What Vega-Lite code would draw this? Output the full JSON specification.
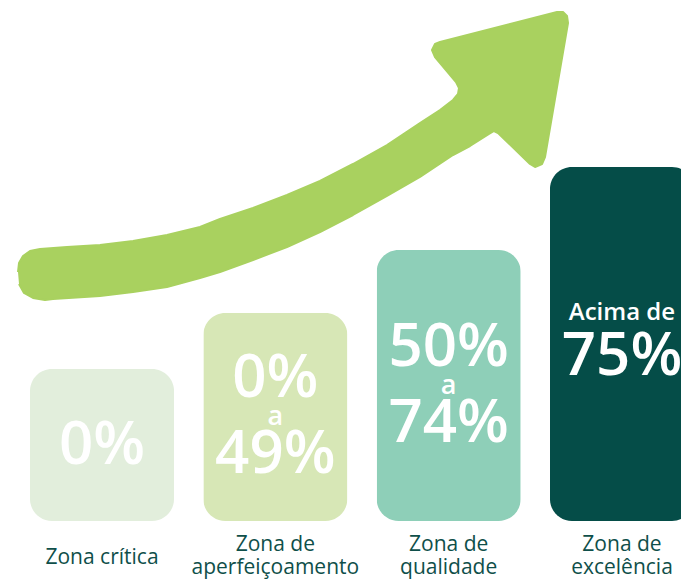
{
  "$schema": "https://vega.github.io/schema/vega-lite/v6.json",
  "width": 681,
  "height": 521,
  "autosize": "none",
  "padding": {"left": 0, "top": 0, "right": 0, "bottom": 58},
  "background": "white",
  "config": {"view": {"stroke": null}, "font": "Open Sans"},
  "datasets": {
    "zones": [
      {"zone": "Zona crítica", "height": 152},
      {"zone": "Zona de aperfeiçoamento", "height": 208},
      {"zone": "Zona de qualidade", "height": 271},
      {"zone": "Zona de excelência", "height": 354}
    ],
    "texts": [
      {"zone": "Zona crítica", "height": 152, "part": "single", "text": "0%"},
      {"zone": "Zona de aperfeiçoamento", "height": 208, "part": "upper", "text": "0%"},
      {"zone": "Zona de aperfeiçoamento", "height": 208, "part": "a", "text": "a"},
      {"zone": "Zona de aperfeiçoamento", "height": 208, "part": "lower", "text": "49%"},
      {"zone": "Zona de qualidade", "height": 271, "part": "upper", "text": "50%"},
      {"zone": "Zona de qualidade", "height": 271, "part": "a", "text": "a"},
      {"zone": "Zona de qualidade", "height": 271, "part": "lower", "text": "74%"},
      {"zone": "Zona de excelência", "height": 354, "part": "head", "text": "Acima de"},
      {"zone": "Zona de excelência", "height": 354, "part": "big", "text": "75%"}
    ],
    "arrow": [
      {"i": 1, "ax": 18, "ay": 249},
      {"i": 2, "ax": 19, "ay": 258},
      {"i": 3, "ax": 23, "ay": 265},
      {"i": 4, "ax": 30, "ay": 270},
      {"i": 5, "ax": 40, "ay": 272},
      {"i": 6, "ax": 67, "ay": 274},
      {"i": 7, "ax": 100, "ay": 276},
      {"i": 8, "ax": 133, "ay": 280},
      {"i": 9, "ax": 167, "ay": 286},
      {"i": 10, "ax": 200, "ay": 294},
      {"i": 11, "ax": 220, "ay": 302},
      {"i": 12, "ax": 253, "ay": 313},
      {"i": 13, "ax": 287, "ay": 326},
      {"i": 14, "ax": 320, "ay": 340},
      {"i": 15, "ax": 353, "ay": 357},
      {"i": 16, "ax": 387, "ay": 376},
      {"i": 17, "ax": 420, "ay": 398},
      {"i": 18, "ax": 440, "ay": 411},
      {"i": 19, "ax": 453, "ay": 421},
      {"i": 20, "ax": 458, "ay": 427},
      {"i": 21, "ax": 459, "ay": 433},
      {"i": 22, "ax": 456, "ay": 439},
      {"i": 23, "ax": 435, "ay": 464},
      {"i": 24, "ax": 432, "ay": 471},
      {"i": 25, "ax": 435, "ay": 477},
      {"i": 26, "ax": 440, "ay": 479},
      {"i": 27, "ax": 557, "ay": 509},
      {"i": 28, "ax": 563, "ay": 509},
      {"i": 29, "ax": 567, "ay": 505},
      {"i": 30, "ax": 568, "ay": 498},
      {"i": 31, "ax": 545, "ay": 364},
      {"i": 32, "ax": 542, "ay": 357},
      {"i": 33, "ax": 535, "ay": 354},
      {"i": 34, "ax": 530, "ay": 357},
      {"i": 35, "ax": 498, "ay": 388},
      {"i": 36, "ax": 494, "ay": 390},
      {"i": 37, "ax": 489, "ay": 387},
      {"i": 38, "ax": 470, "ay": 375},
      {"i": 39, "ax": 453, "ay": 366},
      {"i": 40, "ax": 420, "ay": 344},
      {"i": 41, "ax": 387, "ay": 325},
      {"i": 42, "ax": 353, "ay": 306},
      {"i": 43, "ax": 320, "ay": 289},
      {"i": 44, "ax": 287, "ay": 274},
      {"i": 45, "ax": 253, "ay": 261},
      {"i": 46, "ax": 220, "ay": 249},
      {"i": 47, "ax": 200, "ay": 243},
      {"i": 48, "ax": 167, "ay": 234},
      {"i": 49, "ax": 133, "ay": 229},
      {"i": 50, "ax": 100, "ay": 225},
      {"i": 51, "ax": 53, "ay": 222},
      {"i": 52, "ax": 45, "ay": 221},
      {"i": 53, "ax": 33, "ay": 223},
      {"i": 54, "ax": 24, "ay": 228},
      {"i": 55, "ax": 19, "ay": 237}
    ]
  },
  "resolve": {"scale": {"x": "independent", "y": "independent"}},
  "layer": [
    {
      "data": {"name": "arrow"},
      "mark": {"type": "line", "filled": true, "fill": "#A9D15F", "stroke": "#A9D15F", "strokeWidth": 2, "strokeJoin": "round", "interpolate": "linear"},
      "encoding": {
        "x": {"field": "ax", "type": "quantitative", "scale": {"domain": [0, 681], "nice": false, "zero": false}, "axis": null},
        "y": {"field": "ay", "type": "quantitative", "scale": {"domain": [0, 521], "nice": false}, "axis": null},
        "order": {"field": "i", "type": "quantitative"}
      }
    },
    {
      "data": {"name": "zones"},
      "mark": {"type": "bar", "cornerRadius": 22},
      "encoding": {
        "x": {
          "field": "zone", "type": "nominal",
          "scale": {"type": "band", "domain": ["Zona crítica", "Zona de aperfeiçoamento", "Zona de qualidade", "Zona de excelência"], "range": [0, 724], "paddingInner": 0.169, "paddingOuter": 0.173},
          "axis": {
            "title": null, "domain": false, "ticks": false, "grid": false, "labelAngle": 0,
            "labelFont": "Open Sans", "labelFontSize": 21, "labelColor": "#0F4F4A",
            "labelLineHeight": 23, "labelBaseline": "top",
            "labelPadding": {"condition": {"test": "datum.value == 'Zona crítica'", "value": 25}, "value": 12},
            "labelOverlap": false, "labelBound": false, "labelFlush": false,
            "labelExpr": "datum.value == 'Zona crítica' ? datum.value : ['Zona de', replace(datum.value, 'Zona de ', '')]"
          }
        },
        "y": {"field": "height", "type": "quantitative", "scale": {"domain": [0, 521], "nice": false}, "axis": null},
        "color": {
          "field": "zone", "type": "nominal",
          "scale": {"domain": ["Zona crítica", "Zona de aperfeiçoamento", "Zona de qualidade", "Zona de excelência"], "range": ["#E2EEDC", "#D7E7B6", "#8ECFB8", "#054D48"]},
          "legend": null
        }
      }
    },
    {
      "data": {"name": "texts"},
      "transform": [{"filter": "datum.part == 'single'"}],
      "mark": {"type": "text", "fontSize": 60, "fontWeight": 600, "color": "white", "baseline": "middle", "align": "center", "dy": 1},
      "encoding": {
        "x": {"field": "zone", "type": "nominal", "scale": {"type": "band", "domain": ["Zona crítica", "Zona de aperfeiçoamento", "Zona de qualidade", "Zona de excelência"], "range": [0, 724], "paddingInner": 0.169, "paddingOuter": 0.173}, "axis": null},
        "y": {"field": "height", "type": "quantitative", "scale": {"domain": [0, 1042], "nice": false}, "axis": null},
        "text": {"field": "text"}
      }
    },
    {
      "data": {"name": "texts"},
      "transform": [{"filter": "datum.part == 'upper'"}],
      "mark": {"type": "text", "fontSize": 60, "fontWeight": 600, "color": "white", "baseline": "middle", "align": "center", "dy": -38},
      "encoding": {
        "x": {"field": "zone", "type": "nominal", "scale": {"type": "band", "domain": ["Zona crítica", "Zona de aperfeiçoamento", "Zona de qualidade", "Zona de excelência"], "range": [0, 724], "paddingInner": 0.169, "paddingOuter": 0.173}, "axis": null},
        "y": {"field": "height", "type": "quantitative", "scale": {"domain": [0, 1042], "nice": false}, "axis": null},
        "text": {"field": "text"}
      }
    },
    {
      "data": {"name": "texts"},
      "transform": [{"filter": "datum.part == 'lower'"}],
      "mark": {"type": "text", "fontSize": 60, "fontWeight": 600, "color": "white", "baseline": "middle", "align": "center", "dy": 38},
      "encoding": {
        "x": {"field": "zone", "type": "nominal", "scale": {"type": "band", "domain": ["Zona crítica", "Zona de aperfeiçoamento", "Zona de qualidade", "Zona de excelência"], "range": [0, 724], "paddingInner": 0.169, "paddingOuter": 0.173}, "axis": null},
        "y": {"field": "height", "type": "quantitative", "scale": {"domain": [0, 1042], "nice": false}, "axis": null},
        "text": {"field": "text"}
      }
    },
    {
      "data": {"name": "texts"},
      "transform": [{"filter": "datum.part == 'a'"}],
      "mark": {"type": "text", "fontSize": 27, "fontWeight": 600, "color": "white", "baseline": "middle", "align": "center", "dy": 0},
      "encoding": {
        "x": {"field": "zone", "type": "nominal", "scale": {"type": "band", "domain": ["Zona crítica", "Zona de aperfeiçoamento", "Zona de qualidade", "Zona de excelência"], "range": [0, 724], "paddingInner": 0.169, "paddingOuter": 0.173}, "axis": null},
        "y": {"field": "height", "type": "quantitative", "scale": {"domain": [0, 1042], "nice": false}, "axis": null},
        "text": {"field": "text"}
      }
    },
    {
      "data": {"name": "texts"},
      "transform": [{"filter": "datum.part == 'head'"}],
      "mark": {"type": "text", "fontSize": 24, "fontWeight": 600, "color": "white", "baseline": "middle", "align": "center", "dy": -31},
      "encoding": {
        "x": {"field": "zone", "type": "nominal", "scale": {"type": "band", "domain": ["Zona crítica", "Zona de aperfeiçoamento", "Zona de qualidade", "Zona de excelência"], "range": [0, 724], "paddingInner": 0.169, "paddingOuter": 0.173}, "axis": null},
        "y": {"field": "height", "type": "quantitative", "scale": {"domain": [0, 1042], "nice": false}, "axis": null},
        "text": {"field": "text"}
      }
    },
    {
      "data": {"name": "texts"},
      "transform": [{"filter": "datum.part == 'big'"}],
      "mark": {"type": "text", "fontSize": 60, "fontWeight": 600, "color": "white", "baseline": "middle", "align": "center", "dy": 13},
      "encoding": {
        "x": {"field": "zone", "type": "nominal", "scale": {"type": "band", "domain": ["Zona crítica", "Zona de aperfeiçoamento", "Zona de qualidade", "Zona de excelência"], "range": [0, 724], "paddingInner": 0.169, "paddingOuter": 0.173}, "axis": null},
        "y": {"field": "height", "type": "quantitative", "scale": {"domain": [0, 1042], "nice": false}, "axis": null},
        "text": {"field": "text"}
      }
    }
  ]
}
